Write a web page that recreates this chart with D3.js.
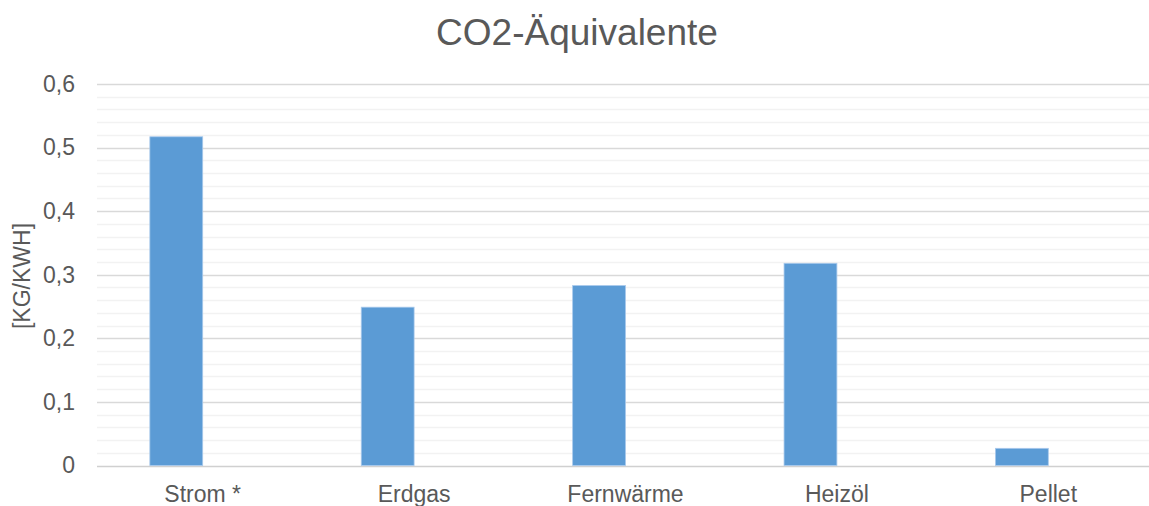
<!DOCTYPE html>
<html>
<head>
<meta charset="utf-8">
<title>CO2-Äquivalente</title>
<style>
  html, body { margin: 0; padding: 0; background: #fff; }
  svg { display: block; font-family: "Liberation Sans", Arial, sans-serif; }
</style>
</head>
<body>
<script src="https://cdn.jsdelivr.net/npm/d3@7/dist/d3.min.js"></script>
<script>
// Daten
var categories = ["Strom *", "Erdgas", "Fernwärme", "Heizöl", "Pellet"];
var seriesNames = ["CO2", "leer"];          // zweite Reihe ist leer
var co2Values = [0.517, 0.249, 0.283, 0.318, 0.027];
var yTicks = [0, 0.1, 0.2, 0.3, 0.4, 0.5, 0.6];
var yMinorTicks = [0.02, 0.04, 0.06, 0.08, 0.12, 0.14, 0.16, 0.18, 0.22, 0.24, 0.26, 0.28,
                   0.32, 0.34, 0.36, 0.38, 0.42, 0.44, 0.46, 0.48, 0.52, 0.54, 0.56, 0.58];

var width = 1149, height = 506;
var plotLeft = 97, plotRight = 1154;   // Diagramm ist rechts abgeschnitten
var plotTop = 84, plotBottom = 465.5;

var svg = d3.select("body").append("svg")
    .attr("width", width)
    .attr("height", height);

var x = d3.scaleBand()
    .domain(categories)
    .range([plotLeft, plotRight])
    .paddingInner(0.5)
    .paddingOuter(0.25);

var xSeries = d3.scaleBand()
    .domain(seriesNames)
    .range([0, x.bandwidth()]);

var y = d3.scaleLinear()
    .domain([0, 0.6])
    .range([plotBottom, plotTop]);

var fmt = d3.formatLocale({decimal: ",", thousands: ".", grouping: [3], currency: ["", " €"]}).format(",.1~f");

// Hilfslinien
svg.append("g")
    .selectAll("line")
    .data(yMinorTicks)
    .enter()
    .append("line")
    .attr("x1", plotLeft).attr("x2", plotRight)
    .attr("y1", function(d){ return Math.round(y(d)) + 0.5; })
    .attr("y2", function(d){ return Math.round(y(d)) + 0.5; })
    .attr("stroke", "#f2f2f2")
    .attr("stroke-width", 1.5);

svg.append("g")
    .selectAll("line")
    .data(yTicks)
    .enter()
    .append("line")
    .attr("x1", plotLeft).attr("x2", plotRight)
    .attr("y1", function(d){ return Math.round(y(d)) + 0.5; })
    .attr("y2", function(d){ return Math.round(y(d)) + 0.5; })
    .attr("stroke", function(d){ return d === 0 ? "#d0d0d0" : "#d9d9d9"; })
    .attr("stroke-width", 1.5);

// y-Achse Beschriftung
var yAxis = svg.append("g")
    .attr("transform", "translate(" + (plotLeft - 22) + ",0)")
    .call(d3.axisLeft(y).tickValues(yTicks).tickFormat(fmt).tickSize(0).tickPadding(0));
yAxis.select(".domain").remove();
yAxis.selectAll("text")
    .attr("fill", "#595959")
    .style("font-size", "23px")
    .style("font-family", "'Liberation Sans', Arial, sans-serif");

// Balken
var groups = svg.append("g")
    .selectAll("g")
    .data(categories)
    .enter()
    .append("g")
    .attr("transform", function(d){ return "translate(" + x(d) + ",0)"; });

groups.append("rect")
    .attr("x", xSeries("CO2"))
    .attr("width", xSeries.bandwidth())
    .attr("y", function(d, i){ return y(co2Values[i]); })
    .attr("height", function(d, i){ return y(0) - y(co2Values[i]); })
    .attr("fill", "#5b9bd5")
    .attr("stroke", "#a9c9ec")
    .attr("stroke-width", 0.8);

// x-Achse Beschriftung
svg.append("g")
    .selectAll("text")
    .data(categories)
    .enter()
    .append("text")
    .attr("x", function(d){ return x(d) + x.bandwidth() / 2; })
    .attr("y", 502)
    .attr("text-anchor", "middle")
    .attr("fill", "#595959")
    .style("font-size", "23px")
    .text(function(d){ return d; });

// Titel
svg.append("text")
    .attr("x", 577)
    .attr("y", 45)
    .attr("text-anchor", "middle")
    .attr("fill", "#595959")
    .style("font-size", "37px")
    .text("CO2-Äquivalente");

// Achsentitel
svg.append("text")
    .attr("transform", "translate(30,276) rotate(-90)")
    .attr("text-anchor", "middle")
    .attr("fill", "#595959")
    .style("font-size", "23px")
    .text("[KG/KWH]");
</script>
</body>
</html>
